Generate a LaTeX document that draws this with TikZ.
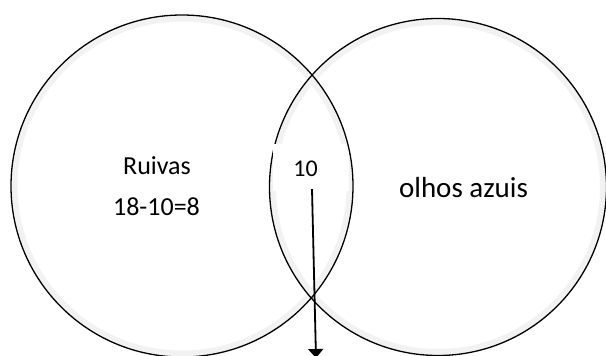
\documentclass[tikz,border=0pt]{standalone}
\usepackage{fontspec}
\setmainfont{Carlito}
\usetikzlibrary{arrows.meta,positioning}
\tikzset{
  >={Triangle[length=9pt,width=15pt]},
  % conjuntos
  conj/.style={circle,draw=black,line width=1.3pt,inner sep=0pt,outer sep=0pt},
  halo/.style={draw=black!5,line width=6pt},
  rot/.style={font=\fontsize{26}{30}\selectfont,anchor=base,inner sep=0pt},
  rotg/.style={rot,font=\fontsize{29}{33}\selectfont},
  caixa/.style={fill=white,inner sep=0pt,minimum width=76pt,minimum height=47pt},
  seta/.style={->,line width=1.8pt},
}
\begin{document}
\begin{tikzpicture}[x=1pt,y=-1pt]
  \useasboundingbox (0,0) rectangle (606,356);
  \draw[halo] (182,186) circle[radius=167.5pt];
  \draw[halo] (438,187) circle[radius=165pt];
  \node[conj,minimum size=337pt] (olhosC) at (438,187) {};
  \node[caixa] (inter) at (311,167.5) {};
  \node[conj,minimum size=342pt] (ruivasC) at (182,186) {};
  \node[rot,font=\fontsize{24}{28}\selectfont] (dez) at (305.5,176) {10};
  \node[rot] (ruivas) at (157,174) {Ruivas};
  \node[rot] (conta) at (156.5,215) {18-10=8};
  \node[rotg] (olhos) at (463.5,197) {olhos azuis};
  \coordinate (fim) at (316,358);
  \draw[seta] ([xshift=1pt,yshift=2pt]inter.south) -- (fim);
\end{tikzpicture}
\end{document}
